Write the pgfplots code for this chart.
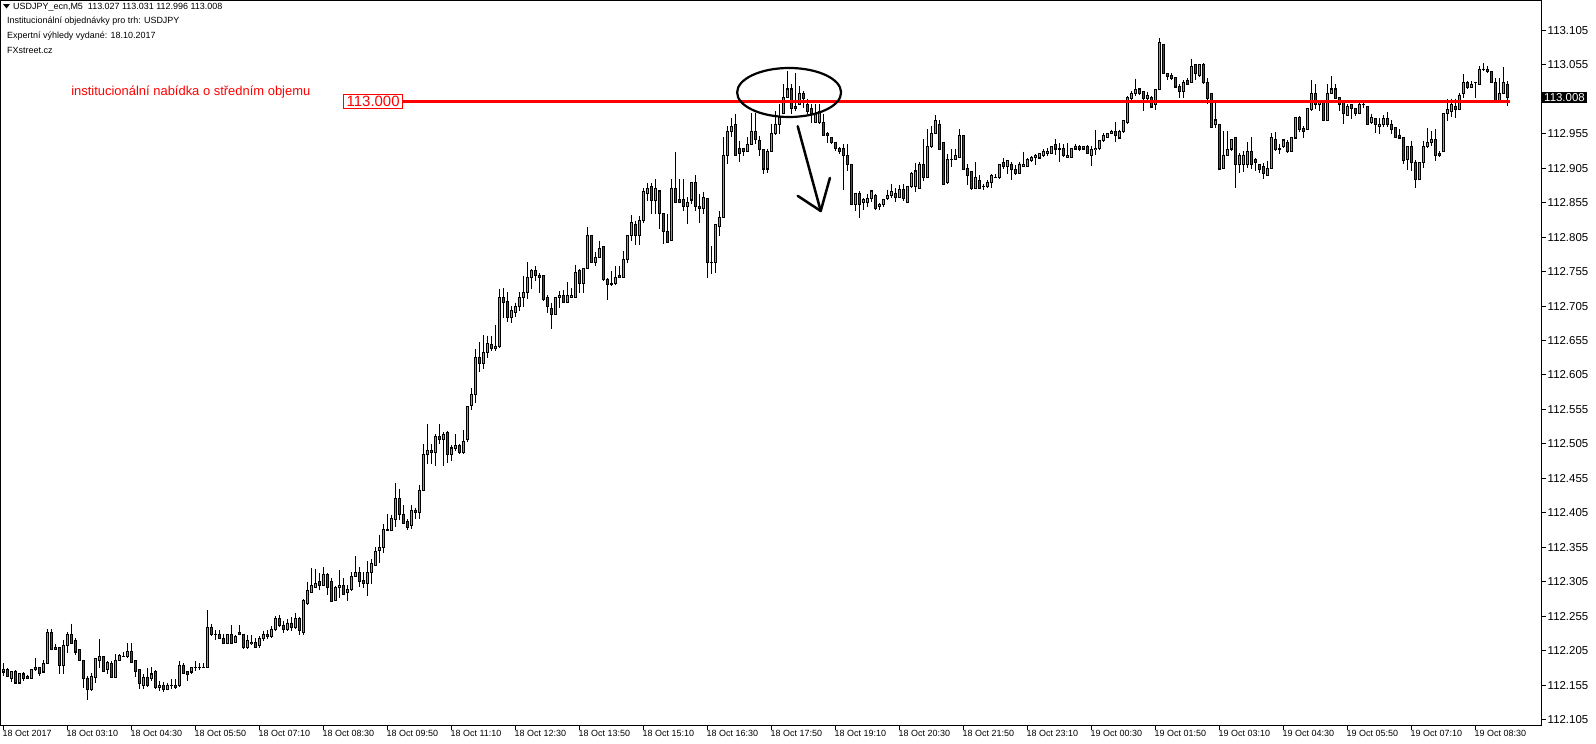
\documentclass[border=0pt]{standalone}
\usepackage{fontspec}
\setmainfont{Liberation Sans}
\usepackage{pgfplots}
\usepackage{pgfplotstable}
\pgfplotsset{compat=1.18}
\definecolor{bull}{RGB}{0,255,0}
\definecolor{bear}{RGB}{255,0,0}
\newcommand\lbl{\fontsize{9}{10}\selectfont}
\newcommand\ylbl{\fontsize{11.5}{12}\selectfont}
\pgfplotstableread{
o h l c
112.174 112.187 112.168 112.177
112.177 112.180 112.166 112.168
112.165 112.174 112.160 112.174
112.175 112.177 112.157 112.158
112.158 112.172 112.157 112.172
112.171 112.174 112.161 112.165
112.168 112.170 112.164 112.165
112.165 112.178 112.165 112.178
112.181 112.194 112.175 112.177
112.180 112.180 112.168 112.172
112.174 112.191 112.174 112.186
112.186 112.236 112.186 112.231
112.231 112.236 112.206 112.207
112.209 112.215 112.206 112.207
112.210 112.210 112.171 112.184
112.184 112.220 112.171 112.213
112.212 112.232 112.201 112.228
112.229 112.244 112.216 112.216
112.219 112.223 112.198 112.203
112.206 112.206 112.190 112.191
112.191 112.191 112.151 112.164
112.165 112.168 112.133 112.148
112.148 112.172 112.146 112.168
112.166 112.193 112.158 112.193
112.191 112.222 112.180 112.196
112.197 112.197 112.174 112.175
112.177 112.190 112.171 112.187
112.186 112.190 112.165 112.166
112.166 112.200 112.166 112.191
112.191 112.200 112.190 112.198
112.197 112.203 112.197 112.197
112.197 112.216 112.194 112.203
112.203 112.216 112.188 112.188
112.190 112.190 112.166 112.175
112.177 112.178 112.149 112.157
112.155 112.171 112.149 112.166
112.166 112.180 112.152 112.155
112.164 112.181 112.161 112.171
112.174 112.177 112.149 112.152
112.152 112.161 112.146 112.155
112.155 112.160 112.145 112.149
112.149 112.158 112.148 112.155
112.155 112.164 112.149 112.154
112.154 112.164 112.149 112.152
112.155 112.190 112.152 112.184
112.184 112.187 112.171 112.172
112.174 112.174 112.161 112.171
112.174 112.180 112.171 112.180
112.180 112.190 112.175 112.180
112.180 112.187 112.177 112.180
112.180 112.187 112.180 112.181
112.180 112.264 112.180 112.239
112.239 112.244 112.226 112.229
112.229 112.235 112.220 112.229
112.229 112.235 112.222 112.223
112.222 112.229 112.215 112.216
112.216 112.229 112.215 112.228
112.228 112.242 112.216 112.216
112.217 112.228 112.217 112.226
112.231 112.242 112.229 112.229
112.229 112.229 112.207 112.209
112.209 112.228 112.207 112.219
112.217 112.228 112.213 112.215
112.216 112.223 112.209 112.210
112.212 112.226 112.209 112.223
112.223 112.234 112.219 112.229
112.229 112.235 112.222 112.225
112.225 112.241 112.223 112.236
112.236 112.255 112.234 112.251
112.251 112.257 112.239 112.242
112.242 112.248 112.231 112.236
112.236 112.251 112.234 112.245
112.245 112.254 112.234 112.239
112.239 112.260 112.236 112.251
112.251 112.254 112.228 112.234
112.231 112.280 112.228 112.277
112.274 112.305 112.271 112.292
112.290 112.325 112.289 112.299
112.296 112.324 112.296 112.302
112.305 112.318 112.293 112.300
112.300 112.326 112.299 112.316
112.315 112.318 112.286 112.297
112.305 112.310 112.277 112.277
112.278 112.299 112.278 112.297
112.296 112.322 112.281 112.299
112.299 112.310 112.286 112.287
112.289 112.300 112.277 112.293
112.294 112.319 112.292 112.313
112.312 112.342 112.312 112.318
112.318 112.326 112.297 112.305
112.306 112.319 112.296 112.302
112.302 112.335 112.284 112.318
112.318 112.338 112.302 112.331
112.329 112.355 112.329 112.349
112.351 112.373 112.332 112.355
112.354 112.389 112.347 112.381
112.381 112.403 112.378 112.380
112.380 112.402 112.378 112.397
112.396 112.448 112.384 112.426
112.426 112.440 112.395 112.403
112.403 112.416 112.389 112.390
112.392 112.396 112.380 112.384
112.386 112.416 112.381 112.409
112.409 112.412 112.396 112.405
112.405 112.445 112.396 112.438
112.438 112.505 112.438 112.490
112.490 112.534 112.476 112.496
112.496 112.505 112.476 112.492
112.492 112.519 112.473 112.515
112.516 112.534 112.505 112.512
112.512 112.522 112.473 112.519
112.521 112.524 112.477 112.490
112.490 112.503 112.480 112.499
112.499 112.519 112.495 112.502
112.502 112.505 112.490 112.492
112.492 112.525 112.490 112.509
112.512 112.559 112.508 112.559
112.561 112.586 112.554 112.577
112.577 112.643 112.564 112.630
112.630 112.653 112.609 112.622
112.622 112.663 112.614 112.637
112.637 112.662 112.630 112.650
112.649 112.662 112.640 112.643
112.644 112.678 112.640 112.647
112.647 112.730 112.644 112.717
112.717 112.731 112.688 112.710
112.711 112.725 112.682 112.689
112.689 112.705 112.680 112.698
112.696 112.710 112.689 112.704
112.704 112.725 112.698 112.717
112.718 112.749 112.704 112.725
112.725 112.769 112.715 112.746
112.746 112.759 112.730 112.756
112.756 112.763 112.741 112.749
112.750 112.753 112.724 112.747
112.749 112.749 112.712 112.715
112.717 112.721 112.695 112.704
112.702 112.710 112.672 112.693
112.693 112.718 112.693 112.718
112.717 112.727 112.702 112.720
112.721 112.728 112.710 112.710
112.710 112.740 112.710 112.720
112.717 112.731 112.717 112.720
112.718 112.765 112.718 112.754
112.756 112.759 112.724 112.738
112.738 112.760 112.724 112.760
112.760 112.820 112.760 112.808
112.808 112.808 112.768 112.768
112.768 112.784 112.763 112.775
112.775 112.800 112.775 112.789
112.791 112.791 112.741 112.743
112.744 112.746 112.714 112.737
112.737 112.756 112.734 112.736
112.738 112.763 112.736 112.746
112.749 112.763 112.746 112.746
112.746 112.785 112.746 112.772
112.773 112.808 112.768 112.808
112.808 112.837 112.800 112.826
112.824 112.829 112.794 112.808
112.808 112.836 112.794 112.829
112.829 112.876 112.826 112.871
112.868 112.884 112.858 112.876
112.878 112.884 112.839 112.858
112.858 112.889 112.839 112.876
112.872 112.872 112.817 112.839
112.839 112.839 112.795 112.813
112.813 112.839 112.797 112.797
112.800 112.889 112.800 112.876
112.875 112.929 112.856 112.856
112.859 112.889 112.856 112.856
112.859 112.889 112.843 112.850
112.849 112.863 112.824 112.855
112.859 112.885 112.853 112.884
112.884 112.895 112.843 112.850
112.850 112.868 112.826 112.846
112.846 112.871 112.839 112.862
112.861 112.861 112.746 112.768
112.768 112.792 112.752 112.768
112.768 112.824 112.753 112.823
112.821 112.843 112.807 112.834
112.834 112.950 112.834 112.924
112.924 112.966 112.911 112.958
112.958 112.978 112.950 112.966
112.968 112.984 112.923 112.923
112.934 112.945 112.914 112.927
112.933 112.933 112.923 112.929
112.929 112.950 112.929 112.940
112.940 112.985 112.940 112.959
112.958 112.985 112.940 112.947
112.945 112.952 112.923 112.932
112.932 112.932 112.897 112.904
112.904 112.933 112.898 112.929
112.930 112.969 112.930 112.956
112.955 112.988 112.953 112.969
112.968 112.998 112.955 112.979
112.984 113.027 112.984 113.008
113.008 113.046 113.008 113.020
113.020 113.027 112.984 112.992
112.994 113.043 112.988 112.992
112.997 113.024 112.997 113.014
113.014 113.017 112.992 113.006
112.998 113.006 112.984 112.988
112.991 112.998 112.971 112.984
112.972 112.998 112.971 112.985
112.971 112.998 112.969 112.987
112.971 112.984 112.953 112.953
112.956 112.958 112.942 112.952
112.950 112.950 112.940 112.942
112.943 112.943 112.930 112.934
112.934 112.936 112.926 112.930
112.933 112.940 112.874 112.924
112.923 112.940 112.901 112.911
112.911 112.911 112.853 112.853
112.853 112.869 112.843 112.869
112.869 112.872 112.833 112.853
112.855 112.862 112.845 112.859
112.856 112.868 112.849 112.861
112.861 112.874 112.856 112.872
112.866 112.868 112.845 112.846
112.849 112.855 112.845 112.853
112.853 112.861 112.849 112.859
112.861 112.874 112.859 112.866
112.865 112.882 112.862 112.871
112.869 112.876 112.856 112.862
112.863 112.881 112.863 112.874
112.874 112.882 112.858 112.861
112.855 112.879 112.855 112.879
112.878 112.900 112.876 112.898
112.878 112.913 112.871 112.901
112.876 112.914 112.876 112.911
112.910 112.947 112.887 112.891
112.891 112.962 112.891 112.937
112.936 112.966 112.934 112.955
112.955 112.982 112.955 112.974
112.969 112.975 112.932 112.932
112.943 112.943 112.881 112.881
112.884 112.926 112.882 112.918
112.918 112.933 112.907 112.918
112.918 112.933 112.917 112.923
112.921 112.962 112.921 112.952
112.952 112.952 112.903 112.903
112.905 112.911 112.881 112.895
112.900 112.900 112.874 112.876
112.876 112.914 112.876 112.892
112.887 112.895 112.876 112.876
112.879 112.882 112.874 112.879
112.878 112.888 112.876 112.885
112.884 112.897 112.876 112.894
112.892 112.897 112.891 112.892
112.891 112.911 112.889 112.911
112.913 112.920 112.904 112.907
112.908 112.916 112.897 112.916
112.911 112.914 112.888 112.903
112.903 112.910 112.895 112.897
112.897 112.914 112.897 112.911
112.908 112.929 112.907 112.910
112.907 112.920 112.907 112.917
112.916 112.923 112.914 112.921
112.920 112.926 112.910 112.923
112.920 112.927 112.918 112.926
112.923 112.933 112.921 112.929
112.927 112.934 112.923 112.930
112.927 112.937 112.926 112.937
112.939 112.947 112.924 112.933
112.934 112.942 112.914 112.933
112.934 112.940 112.921 112.923
112.920 112.942 112.920 112.923
112.920 112.934 112.920 112.934
112.933 112.940 112.932 112.937
112.937 112.939 112.930 112.933
112.933 112.937 112.933 112.937
112.937 112.939 112.926 112.926
112.924 112.937 112.908 112.932
112.932 112.961 112.924 112.934
112.934 112.945 112.932 112.945
112.945 112.956 112.943 112.953
112.950 112.956 112.949 112.955
112.956 112.961 112.955 112.958
112.959 112.972 112.943 112.953
112.949 112.961 112.949 112.958
112.958 112.975 112.956 112.974
112.971 113.010 112.969 113.007
113.007 113.017 113.001 113.013
113.013 113.035 113.010 113.019
113.020 113.020 113.011 113.014
113.016 113.016 112.988 113.006
113.006 113.016 113.003 113.010
113.008 113.010 112.994 112.994
112.997 113.019 112.990 113.019
113.019 113.094 113.019 113.087
113.085 113.085 113.042 113.042
113.042 113.042 113.033 113.038
113.039 113.043 113.033 113.035
113.036 113.036 113.022 113.023
113.023 113.027 113.007 113.017
113.017 113.033 113.007 113.029
113.032 113.036 113.027 113.027
113.029 113.064 113.029 113.053
113.055 113.056 113.033 113.042
113.040 113.056 113.038 113.055
113.056 113.058 113.027 113.029
113.030 113.036 112.998 113.007
113.014 113.014 112.964 112.964
112.968 113.000 112.964 112.975
112.968 112.968 112.903 112.904
112.905 112.959 112.905 112.924
112.924 112.959 112.923 112.932
112.933 112.947 112.930 112.947
112.950 112.950 112.876 112.911
112.911 112.927 112.898 112.924
112.911 112.930 112.900 112.924
112.911 112.943 112.905 112.929
112.930 112.950 112.904 112.911
112.918 112.920 112.901 112.913
112.911 112.911 112.898 112.903
112.907 112.913 112.889 112.897
112.895 112.916 112.895 112.905
112.905 112.956 112.905 112.949
112.947 112.958 112.930 112.932
112.933 112.940 112.926 112.932
112.936 112.947 112.934 112.946
112.943 112.946 112.927 112.929
112.929 112.950 112.929 112.950
112.949 112.979 112.949 112.979
112.979 112.981 112.958 112.961
112.962 112.966 112.949 112.958
112.962 112.992 112.962 112.991
112.991 113.033 112.988 113.013
113.014 113.027 112.991 112.997
112.997 113.004 112.988 113.001
113.003 113.003 112.974 112.975
112.975 113.027 112.975 113.014
113.014 113.039 113.014 113.020
113.020 113.027 113.007 113.007
113.007 113.007 112.988 112.997
113.000 113.001 112.969 112.984
112.982 112.998 112.981 112.994
112.997 112.998 112.977 112.992
112.991 112.992 112.981 112.984
112.984 113.000 112.984 112.997
112.998 113.000 112.992 112.997
112.995 112.995 112.969 112.969
112.971 112.984 112.969 112.978
112.977 112.977 112.956 112.968
112.966 112.978 112.955 112.969
112.969 112.982 112.965 112.977
112.977 112.987 112.965 112.968
112.969 112.975 112.955 112.962
112.964 112.965 112.949 112.950
112.953 112.962 112.947 112.949
112.950 112.950 112.911 112.917
112.918 112.937 112.903 112.937
112.937 112.945 112.901 112.914
112.914 112.917 112.876 112.889
112.889 112.913 112.889 112.913
112.913 112.945 112.905 112.937
112.936 112.964 112.934 112.942
112.942 112.959 112.937 112.947
112.947 112.962 112.916 112.923
112.926 112.930 112.921 112.923
112.930 112.985 112.930 112.984
112.984 113.006 112.974 112.990
112.988 113.006 112.979 112.997
112.995 113.006 112.978 112.991
112.991 113.014 112.990 113.011
113.013 113.042 113.007 113.029
113.029 113.032 113.020 113.022
113.022 113.032 113.022 113.027
113.029 113.029 113.007 113.029
113.027 113.053 113.027 113.049
113.049 113.058 113.046 113.048
113.048 113.053 113.043 113.045
113.045 113.046 113.029 113.030
113.030 113.036 113.000 113.001
113.003 113.036 113.003 113.014
113.014 113.052 113.013 113.029
113.027 113.031 112.996 113.008
}\candles
\begin{document}
\begin{tikzpicture}
\path[use as bounding box] (0,0) rectangle (1596bp,-744bp);
\begin{axis}[
  at={(0.5bp,-0.5bp)}, anchor=north west,
  scale only axis, width=1541bp, height=725bp,
  xmin=-0.75, xmax=384.5, ymin=112.0963, ymax=113.1485,
  axis line style={black, line width=1bp},
  clip mode=individual,
  xtick={0,16,...,368},
  xticklabels={18 Oct 2017,18 Oct 03:10,18 Oct 04:30,18 Oct 05:50,18 Oct 07:10,18 Oct 08:30,18 Oct 09:50,18 Oct 11:10,18 Oct 12:30,18 Oct 13:50,18 Oct 15:10,18 Oct 16:30,18 Oct 17:50,18 Oct 19:10,18 Oct 20:30,18 Oct 21:50,18 Oct 23:10,19 Oct 00:30,19 Oct 01:50,19 Oct 03:10,19 Oct 04:30,19 Oct 05:50,19 Oct 07:10,19 Oct 08:30},
  ytick={112.105,112.155,112.205,112.255,112.305,112.355,112.405,112.455,112.505,112.555,112.605,112.655,112.705,112.755,112.805,112.855,112.905,112.955,113.055,113.105},
  yticklabels={112.105,112.155,112.205,112.255,112.305,112.355,112.405,112.455,112.505,112.555,112.605,112.655,112.705,112.755,112.805,112.855,112.905,112.955,113.055,113.105},
  xtick pos=left, ytick pos=right, yticklabel pos=right,
  tick align=outside, major tick length=4bp,
  tick style={black, line width=1bp},
  x tick label style={anchor=north west, inner sep=0pt, xshift=-1bp, yshift=-1bp, font=\lbl},
  y tick label style={anchor=west, inner sep=0pt, xshift=2bp, font=\ylbl},
  scaled y ticks=false,
]
% wicks
\addplot[draw=none, mark=none, forget plot,
  error bars/.cd, y dir=minus, y explicit, error mark=none,
  error bar style={draw=black, line width=1bp}]
  table[x expr=\coordindex, y=h, y error minus expr=\thisrow{h}-\thisrow{l}] {\candles};
% body outlines
\addplot[draw=none, mark=none, forget plot,
  error bars/.cd, y dir=minus, y explicit, error mark=none,
  error bar style={draw=black, line width=3bp}]
  table[x expr=\coordindex, y expr={max(\thisrow{o},\thisrow{c})+0.0008},
        y error minus expr={abs(\thisrow{o}-\thisrow{c})+0.0016}] {\candles};
% bullish fill
\addplot[draw=none, mark=none, forget plot,
  error bars/.cd, y dir=minus, y explicit, error mark=none,
  error bar style={draw=bull, line width=1bp}]
  table[x expr=\coordindex, y expr={\thisrow{c}-0.0007},
        y error minus expr={max(\thisrow{c}-\thisrow{o}-0.0014,0)}] {\candles};
% bearish fill
\addplot[draw=none, mark=none, forget plot,
  error bars/.cd, y dir=minus, y explicit, error mark=none,
  error bar style={draw=bear, line width=1bp}]
  table[x expr=\coordindex, y expr={\thisrow{o}-0.0007},
        y error minus expr={max(\thisrow{o}-\thisrow{c}-0.0014,0)}] {\candles};
% level line
\draw[bear, line width=3bp] (axis cs:99.9,113.002) -- (axis cs:376.6,113.002);
\node[anchor=east, draw=bear, line width=1bp, fill=white, text=bear, inner xsep=3bp, inner ysep=1.5bp,
  font=\fontsize{15}{17}\selectfont] at (axis cs:99.9,113.002) {113.000};
\node[anchor=west, text=bear, inner sep=0pt, font=\fontsize{13}{15}\selectfont]
  at (axis cs:16.9,113.016) {institucionální nabídka o středním objemu};
% annotations
\draw[black, line width=2.2bp] (axis cs:196.4,113.015) ellipse [x radius=52bp, y radius=24.5bp];
\draw[black, line width=2.5bp, line cap=round, line join=round]
  (axis cs:198.55,112.966) -- (axis cs:204.3,112.843);
\draw[black, line width=2.5bp, line cap=round, line join=round]
  (axis cs:198.55,112.865) -- (axis cs:204.3,112.843) -- (axis cs:206.6,112.891);
% current price tag
\node[anchor=west, fill=black, text=white, inner xsep=2.5bp, inner ysep=1.5bp, font=\ylbl]
  at (axis cs:384.5,113.008) {113.008};
\end{axis}
% header texts
\fill (3bp,-4bp) -- (10bp,-4bp) -- (6.5bp,-8.5bp) -- cycle;
\node[anchor=west, inner sep=0pt, font=\lbl] at (13bp,-7bp) {USDJPY\_ecn,M5\ \ 113.027 113.031 112.996 113.008};
\node[anchor=west, inner sep=0pt, font=\lbl] at (7bp,-21.5bp) {Institucionální objednávky pro trh: USDJPY};
\node[anchor=west, inner sep=0pt, font=\lbl] at (7bp,-35.8bp) {Expertní výhledy vydané: 18.10.2017};
\node[anchor=west, inner sep=0pt, font=\lbl] at (7bp,-50bp) {FXstreet.cz};
\end{tikzpicture}
\end{document}
